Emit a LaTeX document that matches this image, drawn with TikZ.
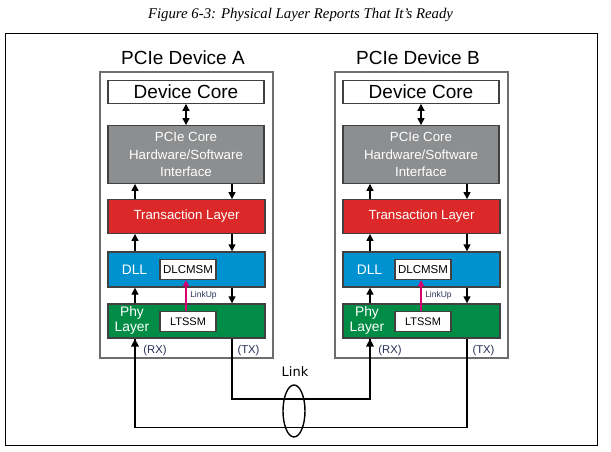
\documentclass[tikz,border=0pt]{standalone}
\usepackage{fontspec}
\setmainfont{Liberation Sans}
\newfontfamily\capfont{Liberation Serif}
\newfontfamily\linkfont{DejaVu Sans}
\usetikzlibrary{arrows.meta,shapes.geometric}
\definecolor{hwgray}{RGB}{141,142,144}
\definecolor{tlred}{RGB}{218,41,40}
\definecolor{dllblue}{RGB}{0,146,208}
\definecolor{phygreen}{RGB}{0,140,68}
\definecolor{edge}{RGB}{64,64,64}
\definecolor{devedge}{RGB}{110,110,110}
\definecolor{linkup}{RGB}{214,0,112}
\definecolor{rxtx}{RGB}{40,48,88}
\tikzset{
  x=1pt, y=-1pt,
  devbox/.style={draw=devedge, line width=1.5pt, inner sep=0pt},
  layer/.style={draw=edge, line width=1.4pt, inner sep=0pt, text=white, align=center,
                font=\fontsize{13.3}{17.5}\selectfont},
  whitebox/.style={draw=edge, line width=1.2pt, fill=white, inner sep=0pt, text=black},
  devtitle/.style={inner sep=0pt, font=\fontsize{19}{22}\selectfont},
  lbl/.style={inner sep=0pt, text=white, align=center, font=\fontsize{13.8}{15}\selectfont},
  small/.style={inner sep=0pt, font=\fontsize{11.3}{13}\selectfont},
  arr/.style={line width=1.4pt, -{Triangle[length=7pt,width=7pt]}},
  dblarr/.style={line width=1.4pt, {Triangle[length=7pt,width=7pt]}-{Triangle[length=7pt,width=7pt]}},
  wire/.style={line width=1.4pt},
  rxarr/.style={line width=1.9pt, -{Triangle[length=8pt,width=7.5pt]}},
}
\begin{document}
\begin{tikzpicture}
\useasboundingbox (0,0) rectangle (611,452);
\node[inner sep=0pt, font=\capfont\itshape\fontsize{14.8}{16}\selectfont] (caption) at (300.5,15)
  {Figure 6-3: Physical Layer Reports That It’s Ready};
\node[draw=black, line width=1pt, minimum width=592, minimum height=411, inner sep=0pt] (frame) at (301,239.5) {};

\foreach \d/\dx in {A/0,B/235}{
\begin{scope}[xshift=\dx pt]
  \node[devtitle] (title\d) at (183,58) {PCIe Device \d};
  \node[devbox, minimum width=173, minimum height=286] (dev\d) at (186.5,215) {};
  \node[whitebox, minimum width=156, minimum height=22.5, font=\fontsize{19}{22}\selectfont] (core\d) at (186,92) {Device Core};
  \node[layer, fill=hwgray, minimum width=156, minimum height=57.5] (hw\d) at (186,154.5)
     {PCIe Core\\Hardware/Software\\Interface};
  \node[layer, fill=tlred, minimum width=157, minimum height=33.5] (tl\d) at (186.5,216.5) {Transaction Layer};
  \node[layer, fill=dllblue, minimum width=157, minimum height=35] (dll\d) at (186.5,269.5) {};
  \node[layer, fill=phygreen, minimum width=157, minimum height=34] (phy\d) at (186.5,321) {};
  \node[whitebox, minimum width=56, minimum height=20, font=\fontsize{11.5}{13}\selectfont] (dlc\d) at (188,269.3) {DLCMSM};
  \node[whitebox, minimum width=56, minimum height=20, font=\fontsize{11}{13}\selectfont] (ltssm\d) at (188,321.7) {LTSSM};
  \node[lbl] (dlltxt\d) at (134.5,270) {DLL};
  \node[lbl] (phytxt\d) at (132,320) {Phy\\Layer};
  \node[inner sep=0pt, text=rxtx, font=\fontsize{8.5}{10}\selectfont] (lu\d) at (203.5,295) {LinkUp};
  \node[small, text=rxtx] (rx\d) at (155,350.5) {(RX)};
  \node[small, text=rxtx] (tx\d) at (248.5,350.5) {(TX)};
  \coordinate (lx\d) at (135,0);
  \coordinate (rx\d x) at (232,0);
  \coordinate (mx\d) at (186,0);
  \draw[dblarr] (core\d.south -| mx\d) -- (hw\d.north -| mx\d);
  \draw[arr] (tl\d.north -| lx\d) -- (hw\d.south -| lx\d);
  \draw[arr] (hw\d.south -| rx\d x) -- (tl\d.north -| rx\d x);
  \draw[arr] (dll\d.north -| lx\d) -- (tl\d.south -| lx\d);
  \draw[arr] (tl\d.south -| rx\d x) -- (dll\d.north -| rx\d x);
  \draw[arr] (phy\d.north -| lx\d) -- (dll\d.south -| lx\d);
  \draw[arr] (dll\d.south -| rx\d x) -- (phy\d.north -| rx\d x);
  \draw[line width=1.4pt, draw=linkup, -{Triangle[length=6.5pt,width=6pt]}] (ltssm\d.north -| mx\d) -- (dlc\d.south -| mx\d);
\end{scope}
}

\coordinate (wtop) at (0,399);
\coordinate (wbot) at (0,427.5);
\draw[wire] (phyA.south -| rxAx) |- (lxB |- wtop) -- (lxB |- phyB.south);
\draw[rxarr] (lxB |- 370,385) -- (phyB.south -| lxB);
\draw[wire] (phyB.south -| rxBx) |- (lxA |- wbot) -- (lxA |- phyA.south);
\draw[rxarr] (lxA |- 370,385) -- (phyA.south -| lxA);

\node[draw=black, line width=1.4pt, ellipse, minimum width=22, minimum height=52, inner sep=0pt] (linkring) at (294,411) {};
\node[inner sep=0pt, font=\linkfont\fontsize{13}{15}\selectfont] (linklbl) at (295,372) {Link};
\end{tikzpicture}
\end{document}
